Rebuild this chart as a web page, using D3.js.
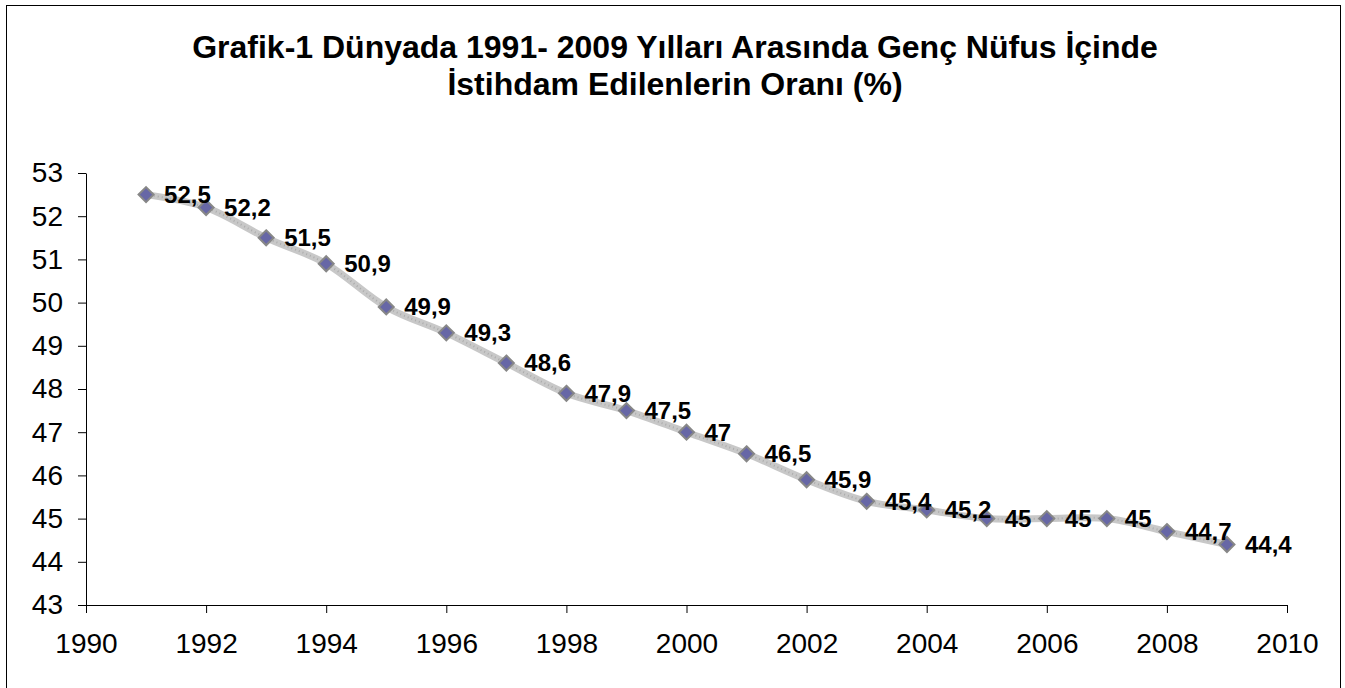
<!DOCTYPE html>
<html>
<head>
<meta charset="utf-8">
<script src="https://cdn.jsdelivr.net/npm/d3@7"></script>
<style>
  body { margin: 0; background: #fff; }
  svg { display: block; font-family: "Liberation Sans", Arial, sans-serif; }
</style>
</head>
<body>
<div id="vis"></div>
<script>
// data
const years = [1991, 1992, 1993, 1994, 1995, 1996, 1997, 1998, 1999, 2000,
               2001, 2002, 2003, 2004, 2005, 2006, 2007, 2008, 2009];
const rates = [52.5, 52.2, 51.5, 50.9, 49.9, 49.3, 48.6, 47.9, 47.5, 47,
               46.5, 45.9, 45.4, 45.2, 45, 45, 45, 44.7, 44.4];
const xTicks = [1990, 1992, 1994, 1996, 1998, 2000, 2002, 2004, 2006, 2008, 2010];
const yTicks = [43, 44, 45, 46, 47, 48, 49, 50, 51, 52, 53];
const titleLines = ["Grafik-1 Dünyada 1991- 2009 Yılları Arasında Genç Nüfus İçinde",
                    "İstihdam Edilenlerin Oranı (%)"];

const width = 1345, height = 688;
const margin = { top: 173, right: 58, bottom: 83, left: 86 };

const svg = d3.select("#vis")
    .append("svg")
    .attr("width", width)
    .attr("height", height);

// outer frame
svg.append("rect")
    .attr("x", 6.5).attr("y", 5.5)
    .attr("width", 1334).attr("height", 700)
    .attr("fill", "none")
    .attr("stroke", "#000")
    .attr("stroke-width", 1);

const data = years.map((y, i) => ({ year: y, value: rates[i] }));

const x = d3.scaleLinear()
    .domain([1990, 2010])
    .range([margin.left, width - margin.right]);

const y = d3.scaleLinear()
    .domain([43, 53])
    .range([height - margin.bottom, margin.top]);

// title
svg.append("text")
    .attr("x", 675)
    .attr("y", 58)
    .attr("text-anchor", "middle")
    .style("font-size", "32px")
    .style("font-weight", "bold")
    .selectAll("tspan")
    .data(titleLines)
    .join("tspan")
    .attr("x", 675)
    .attr("dy", (d, i) => i === 0 ? 0 : 37)
    .text(d => d);

// x axis
svg.append("g")
    .attr("transform", `translate(0,${y(43)})`)
    .call(d3.axisBottom(x).tickValues(xTicks).tickFormat(d3.format("d")).tickSize(8).tickSizeOuter(0).tickPadding(20))
    .call(g => g.selectAll("text").style("font-size", "28px").attr("fill", "#000").style("font-family", "Liberation Sans, Arial, sans-serif"))
    .call(g => g.selectAll("line, path").attr("stroke", "#000"));

// y axis
svg.append("g")
    .attr("transform", `translate(${x(1990)},0)`)
    .call(d3.axisLeft(y).tickValues(yTicks).tickFormat(d3.format("d")).tickSize(8).tickSizeOuter(0).tickPadding(15))
    .call(g => g.selectAll("text").style("font-size", "28px").attr("fill", "#000").style("font-family", "Liberation Sans, Arial, sans-serif"))
    .call(g => g.selectAll("line, path").attr("stroke", "#000"));

// smoothed line
const line = d3.line()
    .x(d => x(d.year))
    .y(d => y(d.value))
    .curve(d3.curveCatmullRom.alpha(0));

svg.append("path")
    .datum(data)
    .attr("fill", "none")
    .attr("stroke", "#c8c8c8")
    .attr("stroke-width", 7)
    .attr("d", line);

svg.append("path")
    .datum(data)
    .attr("fill", "none")
    .attr("stroke", "#acacac")
    .attr("stroke-width", 2)
    .attr("stroke-dasharray", "1 3")
    .attr("d", line);

// diamond markers
svg.append("g")
    .selectAll("path")
    .data(data)
    .join("path")
    .attr("transform", d => `translate(${x(d.year)},${y(d.value)})`)
    .attr("d", "M0,-7.5L7.5,0L0,7.5L-7.5,0Z")
    .attr("fill", "#6767a6")
    .attr("stroke", "#878787")
    .attr("stroke-width", 2);

// value labels
const fmt = v => String(v).replace(".", ",");
svg.append("g")
    .selectAll("text")
    .data(data)
    .join("text")
    .attr("x", d => x(d.year) + 18)
    .attr("y", d => y(d.value))
    .attr("dy", "0.35em")
    .style("font-size", "24px")
    .style("font-weight", "bold")
    .text(d => fmt(d.value));
</script>
</body>
</html>
